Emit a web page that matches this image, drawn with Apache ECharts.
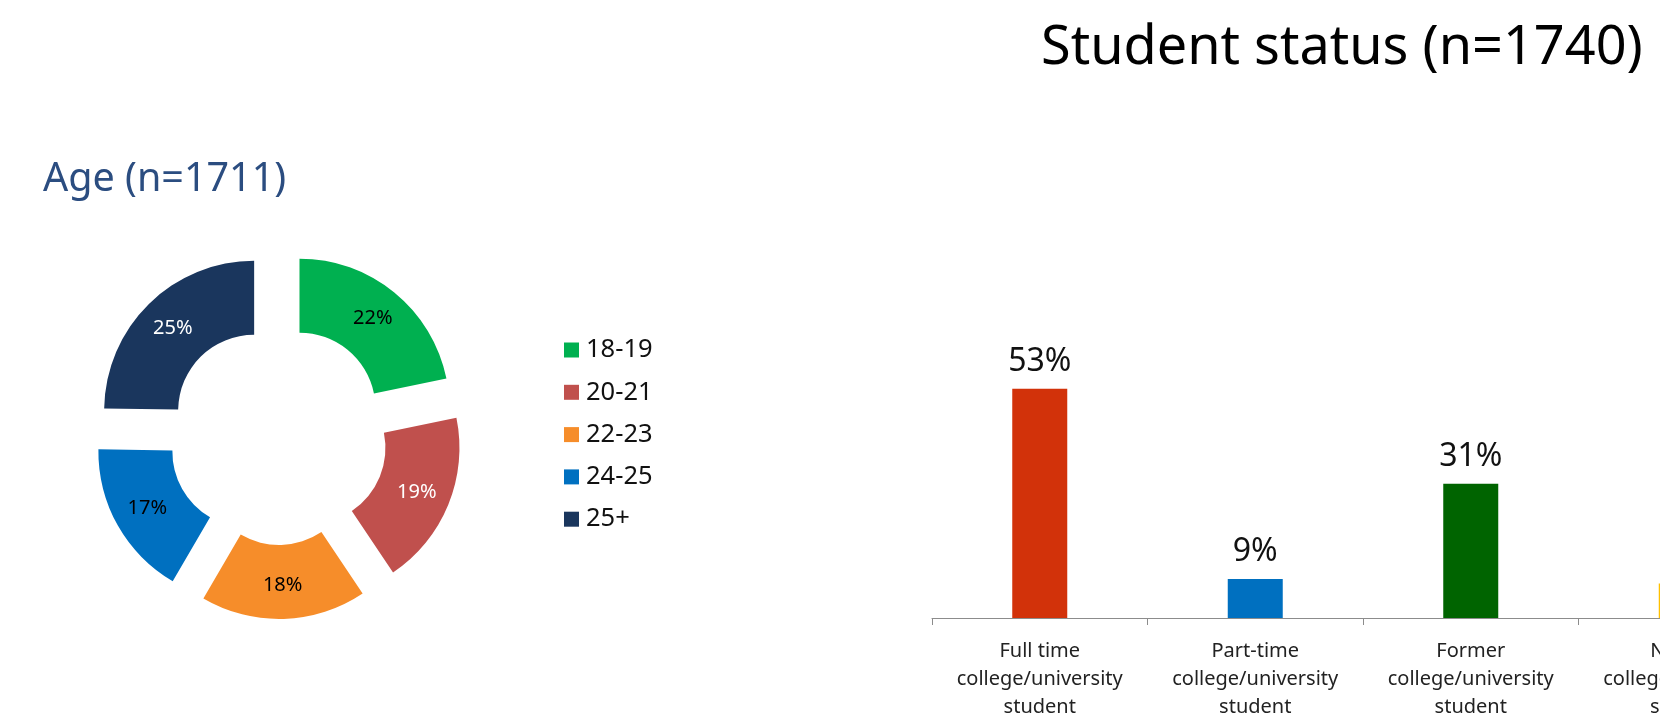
<!DOCTYPE html>
<html>
<head>
<meta charset="utf-8">
<script src="https://cdn.jsdelivr.net/npm/echarts@6/dist/echarts.min.js"></script>
<style>
  html, body { margin: 0; padding: 0; background: #fff; overflow: hidden; }
  #chart { width: 1900px; height: 713px; }
</style>
</head>
<body>
<div id="chart"></div>
<script>
// ---- Data ----
const ageTitle = 'Age (n=1711)';
const ageGroups = ['18-19', '20-21', '22-23', '24-25', '25+'];
const agePercent = [22, 19, 18, 17, 25];
const ageColors = ['#00B050', '#C0504D', '#F68D2A', '#0070C0', '#1A365D'];
const ageLabelColors = ['#000000', '#FFFFFF', '#000000', '#000000', '#FFFFFF'];

const statusTitle = 'Student status (n=1740)';
const statusCategories = [
  'Full time\ncollege/university\nstudent',
  'Part-time\ncollege/university\nstudent',
  'Former\ncollege/university\nstudent',
  'Never a\ncollege/university\nstudent'
];
const statusPercent = [53, 9, 31, 8];
const statusColors = ['#D2320A', '#0070C0', '#006400', '#FFC000'];

// ---- Chart ----
const FONT = "'Noto Sans', 'Open Sans', sans-serif";
const chart = echarts.init(document.getElementById('chart'), null, { renderer: 'canvas' });

const pieData = ageGroups.map((name, i) => ({
  name: name,
  value: agePercent[i],
  selected: true,
  itemStyle: { color: ageColors[i] },
  label: { color: ageLabelColors[i] }
}));

const barData = statusPercent.map((v, i) => ({
  value: v,
  itemStyle: { color: statusColors[i] }
}));

chart.setOption({
  animation: false,
  backgroundColor: '#ffffff',
  textStyle: { fontFamily: FONT },
  title: [
    {
      text: statusTitle,
      left: 1036,
      top: 17,
      textStyle: { fontFamily: FONT, fontSize: 54, fontWeight: 'normal', color: '#000000' }
    },
    {
      text: ageTitle,
      left: 38,
      top: 155,
      textStyle: { fontFamily: FONT, fontSize: 39.5, fontWeight: 'normal', color: '#2B4D80' }
    }
  ],
  legend: {
    orient: 'vertical',
    left: 564,
    top: 337,
    padding: 0,
    data: ageGroups,
    icon: 'rect',
    itemWidth: 15,
    itemHeight: 15,
    itemGap: 16.3,
    selectedMode: false,
    textStyle: { fontFamily: FONT, fontSize: 25.5, color: '#111111', lineHeight: 24, padding: [0, 0, 0, 2] }
  },
  grid: {
    left: 932,
    width: 862,
    top: 358.4,
    height: 259.6,
    containLabel: false,
    outerBoundsMode: 'none'
  },
  xAxis: {
    type: 'category',
    data: statusCategories,
    axisLine: { show: true, lineStyle: { color: '#8C8C8C', width: 1 } },
    axisTick: { show: true, length: 7, lineStyle: { color: '#8C8C8C' } },
    axisLabel: {
      interval: 0,
      margin: 19,
      fontFamily: FONT,
      fontSize: 20,
      lineHeight: 28,
      color: '#222222',
      align: 'center'
    }
  },
  yAxis: {
    type: 'value',
    min: 0,
    max: 60,
    show: false,
    splitLine: { show: false }
  },
  series: [
    {
      type: 'pie',
      center: [278, 435],
      radius: [76, 150],
      startAngle: 90,
      clockwise: true,
      selectedMode: 'multiple',
      selectedOffset: 34,
      avoidLabelOverlap: false,
      legendHoverLink: false,
      emphasis: { disabled: true },
      label: {
        show: true,
        position: 'inside',
        formatter: '{c}%',
        fontFamily: FONT,
        fontSize: 20
      },
      labelLine: { show: false },
      data: pieData
    },
    {
      type: 'bar',
      barWidth: 55,
      data: barData,
      emphasis: { disabled: true },
      label: {
        show: true,
        position: 'top',
        distance: 11,
        formatter: '{c}%',
        fontFamily: FONT,
        fontSize: 32,
        color: '#111111'
      }
    }
  ]
});
</script>
</body>
</html>
